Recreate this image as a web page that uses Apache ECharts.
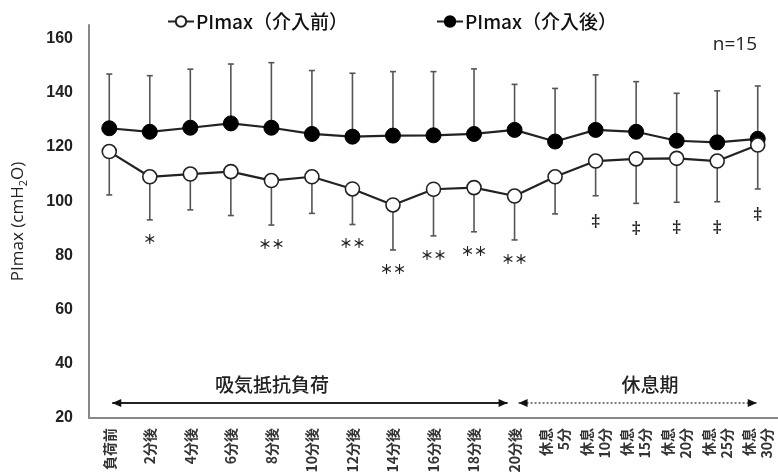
<!DOCTYPE html>
<html>
<head>
<meta charset="utf-8">
<script src="https://cdn.jsdelivr.net/npm/echarts@6/dist/echarts.min.js"></script>
<style>
  html, body { margin: 0; padding: 0; background: #fff; }
  #chart { width: 778px; height: 476px; }
</style>
</head>
<body>
<div id="chart"></div>
<script>
// Time points: loading period, then rest period
const categories = [
  '負荷前', '2分後', '4分後', '6分後', '8分後', '10分後', '12分後', '14分後',
  '16分後', '18分後', '20分後',
  '休息\n5分', '休息\n10分', '休息\n15分', '休息\n20分', '休息\n25分', '休息\n30分'
];

// PImax before intervention: mean and SD (cmH2O)
const meanBefore = [118.3, 109.0, 110.0, 110.9, 107.6, 109.0, 104.5, 98.6, 104.4, 105.0, 101.9, 109.0, 114.8, 115.6, 115.8, 114.8, 120.7];
const sdBefore   = [16.0, 15.9, 13.2, 16.2, 16.4, 13.5, 13.1, 16.6, 17.2, 16.3, 16.2, 13.7, 12.8, 16.4, 16.2, 15.0, 16.2];

// PImax after intervention: mean and SD (cmH2O)
const meanAfter = [126.9, 125.6, 127.1, 128.7, 127.1, 124.8, 123.8, 124.2, 124.3, 124.8, 126.3, 122.0, 126.3, 125.6, 122.3, 121.7, 123.0];
const sdAfter   = [20.0, 20.7, 21.6, 21.9, 24.0, 23.4, 23.4, 23.6, 23.5, 24.0, 16.8, 19.6, 20.3, 18.5, 17.5, 19.0, 19.5];

// Significance marks shown under the "before" series
const sigMarks = ['', '＊', '', '', '＊＊', '', '＊＊', '＊＊', '＊＊', '＊＊', '＊＊', '', '‡', '‡', '‡', '‡', '‡'];

const yTicks = [20, 40, 60, 80, 100, 120, 140, 160];

const nameBefore = 'PImax（介入前）';
const nameAfter = 'PImax（介入後）';

const jp = '"Noto Sans CJK JP", "Noto Sans", sans-serif';

const chart = echarts.init(document.getElementById('chart'));

// Error bar: dir = 1 draws upward (mean + SD), dir = -1 draws downward (mean - SD)
function errorBarRender(params, api) {
  const idx = api.value(0);
  const mean = api.value(1);
  const sd = api.value(2);
  const dir = api.value(3);
  const p0 = api.coord([idx, mean]);
  const p1 = api.coord([idx, mean + dir * sd]);
  const cap = 3;
  const style = { stroke: '#555', lineWidth: 1.6 };
  return {
    type: 'group',
    children: [
      { type: 'line', shape: { x1: p0[0], y1: p0[1], x2: p1[0], y2: p1[1] }, style: style },
      { type: 'line', shape: { x1: p1[0] - cap, y1: p1[1], x2: p1[0] + cap, y2: p1[1] }, style: style }
    ]
  };
}

function sigRender(params, api) {
  const idx = api.value(0);
  const low = api.value(1);
  const mark = sigMarks[idx];
  if (!mark) return null;
  const p = api.coord([idx, low]);
  const dagger = mark === '‡';
  return {
    type: 'text',
    style: {
      x: p[0],
      y: p[1] + (dagger ? 26 : 19),
      text: mark,
      align: 'center',
      verticalAlign: 'middle',
      fill: '#222',
      font: dagger ? 'bold 16px "DejaVu Serif", serif' : 'bold 13px ' + jp
    }
  };
}

const errBefore = meanBefore.map((m, i) => [i, m, sdBefore[i], -1]);
const errAfter = meanAfter.map((m, i) => [i, m, sdAfter[i], 1]);
const sigData = meanBefore.map((m, i) => [i, m - sdBefore[i]]);

const option = {
  animation: false,
  backgroundColor: '#fff',
  grid: { left: 89, right: 0, top: 25, bottom: 58, containLabel: false },
  legend: {
    data: [nameBefore, nameAfter],
    left: 162,
    top: 7,
    itemGap: 88,
    itemWidth: 26,
    itemHeight: 13,
    textStyle: { fontSize: 19, fontWeight: 500, fontFamily: jp, color: '#111', padding: [0, 0, 0, -3] }
  },
  xAxis: {
    type: 'category',
    data: categories,
    boundaryGap: true,
    axisLine: { lineStyle: { color: '#888', width: 2 } },
    axisTick: { show: false },
    axisLabel: {
      rotate: 90,
      interval: 0,
      margin: 10,
      fontSize: 14,
      fontWeight: 'bold',
      fontFamily: jp,
      color: '#333',
      lineHeight: 18
    }
  },
  yAxis: {
    type: 'value',
    min: 20,
    max: 165,
    interval: 5,
    name: '{a|PImax (cmH}{s|2}{a|O)}',
    nameLocation: 'middle',
    nameGap: 60,
    nameRotate: 90,
    nameTextStyle: {
      rich: {
        a: { fontSize: 17, fontFamily: '"Open Sans", sans-serif', color: '#222', lineHeight: 22 },
        s: { fontSize: 11, fontFamily: '"Open Sans", sans-serif', color: '#222', verticalAlign: 'bottom', lineHeight: 14 }
      }
    },
    axisLine: { show: true, lineStyle: { color: '#888', width: 2 } },
    axisTick: { show: false },
    splitLine: { show: false },
    axisLabel: {
      margin: 16,
      fontSize: 16,
      fontWeight: 'bold',
      fontFamily: '"Liberation Sans", sans-serif',
      color: '#222',
      formatter: v => (yTicks.indexOf(v) >= 0 ? String(v) : '')
    }
  },
  series: [
    {
      type: 'custom',
      name: 'errAfter',
      renderItem: errorBarRender,
      data: errAfter,
      encode: { x: 0, y: 1 },
      z: 1,
      silent: true
    },
    {
      type: 'custom',
      name: 'errBefore',
      renderItem: errorBarRender,
      data: errBefore,
      encode: { x: 0, y: 1 },
      z: 1,
      silent: true
    },
    {
      type: 'line',
      name: nameAfter,
      data: meanAfter,
      symbol: 'circle',
      symbolSize: 15,
      z: 3,
      lineStyle: { color: '#222', width: 2.2 },
      itemStyle: { color: '#000', borderColor: '#000', borderWidth: 1 }
    },
    {
      type: 'line',
      name: nameBefore,
      data: meanBefore,
      symbol: 'circle',
      symbolSize: 14,
      z: 4,
      lineStyle: { color: '#222', width: 2.2 },
      itemStyle: { color: '#fff', borderColor: '#222', borderWidth: 1.6 }
    },
    {
      type: 'custom',
      name: 'sig',
      renderItem: sigRender,
      data: sigData,
      encode: { x: 0, y: 1 },
      z: 5,
      silent: true
    }
  ]
};

chart.setOption(option);

// Period arrows and captions placed relative to the category positions
const yArrow = 403;
const xFirst = chart.convertToPixel({ xAxisIndex: 0 }, 0);
const xLoadEnd = chart.convertToPixel({ xAxisIndex: 0 }, 10);
const xLast = chart.convertToPixel({ xAxisIndex: 0 }, categories.length - 1);

function arrowHead(x, y, dirSign) {
  return {
    type: 'polygon',
    shape: { points: [[x, y], [x - dirSign * 9, y - 4], [x - dirSign * 9, y + 4]] },
    style: { fill: '#111' }
  };
}

chart.setOption({
  graphic: [
    { type: 'line', shape: { x1: xFirst + 3, y1: yArrow, x2: xLoadEnd - 7, y2: yArrow }, style: { stroke: '#222', lineWidth: 2 } },
    arrowHead(xFirst + 3, yArrow, -1),
    arrowHead(xLoadEnd - 7, yArrow, 1),
    { type: 'line', shape: { x1: xLoadEnd + 4, y1: yArrow, x2: xLast - 1, y2: yArrow }, style: { stroke: '#555', lineWidth: 1.6, lineDash: [2, 2] } },
    arrowHead(xLoadEnd + 4, yArrow, -1),
    arrowHead(xLast - 1, yArrow, 1),
    { type: 'text', x: 272, y: 385, style: { text: '吸気抵抗負荷', font: '500 19px ' + jp, fill: '#222', align: 'center', verticalAlign: 'middle' } },
    { type: 'text', x: 650, y: 385, style: { text: '休息期', font: '500 19px ' + jp, fill: '#222', align: 'center', verticalAlign: 'middle' } },
    { type: 'text', x: 757, y: 45, style: { text: 'n=15', font: '19px "Open Sans", sans-serif', fill: '#222', align: 'right', verticalAlign: 'middle' } }
  ]
});
</script>
</body>
</html>
